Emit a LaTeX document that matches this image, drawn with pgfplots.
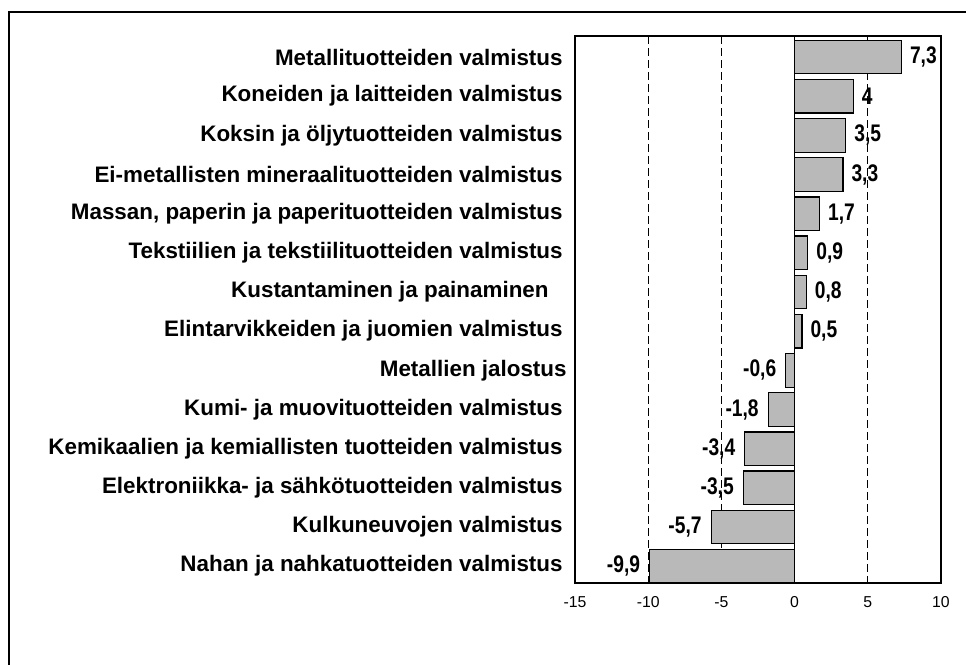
\documentclass[border=0pt]{standalone}
\usepackage{pgfplots}
\pgfplotsset{compat=1.18}
\usepackage{fontspec}
\setmainfont{Liberation Sans}
\newfontfamily\narrowfont[FakeStretch=0.8]{Liberation Sans}
\definecolor{barfill}{RGB}{185,185,185}
\begin{document}
\begin{tikzpicture}
\path[use as bounding box] (0,0) rectangle (483pt,-332.5pt);
\draw[line width=1.3pt] (4.5pt,-345pt) -- (4.5pt,-6pt) -- (495pt,-6pt);
\begin{axis}[
  at={(287.5pt,-291.5pt)}, anchor=south west,
  scale only axis, width=183pt, height=273.5pt,
  xmin=-15, xmax=10, ymin=-0.536, ymax=13.43,
  y dir=reverse,
  xbar, bar width=0.856, bar shift=0pt,
  xtick={-15,-10,-5,0,5,10},
  ytick={0,...,13},
  yticklabels={
    Metallituotteiden valmistus,
    Koneiden ja laitteiden valmistus,
    Koksin ja öljytuotteiden valmistus,
    Ei-metallisten mineraalituotteiden valmistus,
    Massan{,} paperin ja paperituotteiden valmistus,
    Tekstiilien ja tekstiilituotteiden valmistus,
    Kustantaminen ja painaminen\hspace*{7pt},
    Elintarvikkeiden ja juomien valmistus,
    Metallien jalostus\hspace*{-2pt},
    Kumi- ja muovituotteiden valmistus,
    Kemikaalien ja kemiallisten tuotteiden valmistus,
    Elektroniikka- ja sähkötuotteiden valmistus,
    Kulkuneuvojen valmistus,
    Nahan ja nahkatuotteiden valmistus},
  major tick length=0pt,
  axis line style={line width=0.9pt},
  yticklabel style={font=\fontsize{11.2}{12}\selectfont\bfseries, inner sep=0pt, xshift=-6pt},
  xticklabel style={font=\fontsize{7.9}{9}\selectfont, inner sep=0pt, yshift=-6.5pt},
  /pgf/number format/assume math mode=true,
  xmajorgrids, grid style={dashed, black, line width=0.55pt, dash pattern=on 4pt off 2pt},
  point meta=explicit symbolic,
  clip=false,
]
\addplot[draw=black, line width=0.6pt, fill=barfill,
  nodes near coords,
  nodes near coords style={anchor=west, inner sep=0pt, xshift=4pt, font=\narrowfont\fontsize{12}{13}\selectfont\bfseries, black}]
  coordinates {
  (7.3,0) [7,3]
  (4,1) [4]
  (3.5,2) [3,5]
  (3.3,3) [3,3]
  (1.7,4) [1,7]
  (0.9,5) [0,9]
  (0.8,6) [0,8]
  (0.5,7) [0,5]
  };
\addplot[draw=black, line width=0.6pt, fill=barfill,
  nodes near coords,
  nodes near coords style={anchor=east, inner sep=0pt, xshift=-4.5pt, font=\narrowfont\fontsize{12}{13}\selectfont\bfseries, black}]
  coordinates {
  (-0.6,8) [-0,6]
  (-1.8,9) [-1,8]
  (-3.4,10) [-3,4]
  (-3.5,11) [-3,5]
  (-5.7,12) [-5,7]
  (-9.9,13) [-9,9]
  };
\draw[black, line width=0.9pt] (axis cs:0,-0.536) -- (axis cs:0,13.43);
\end{axis}
\end{tikzpicture}
\end{document}
